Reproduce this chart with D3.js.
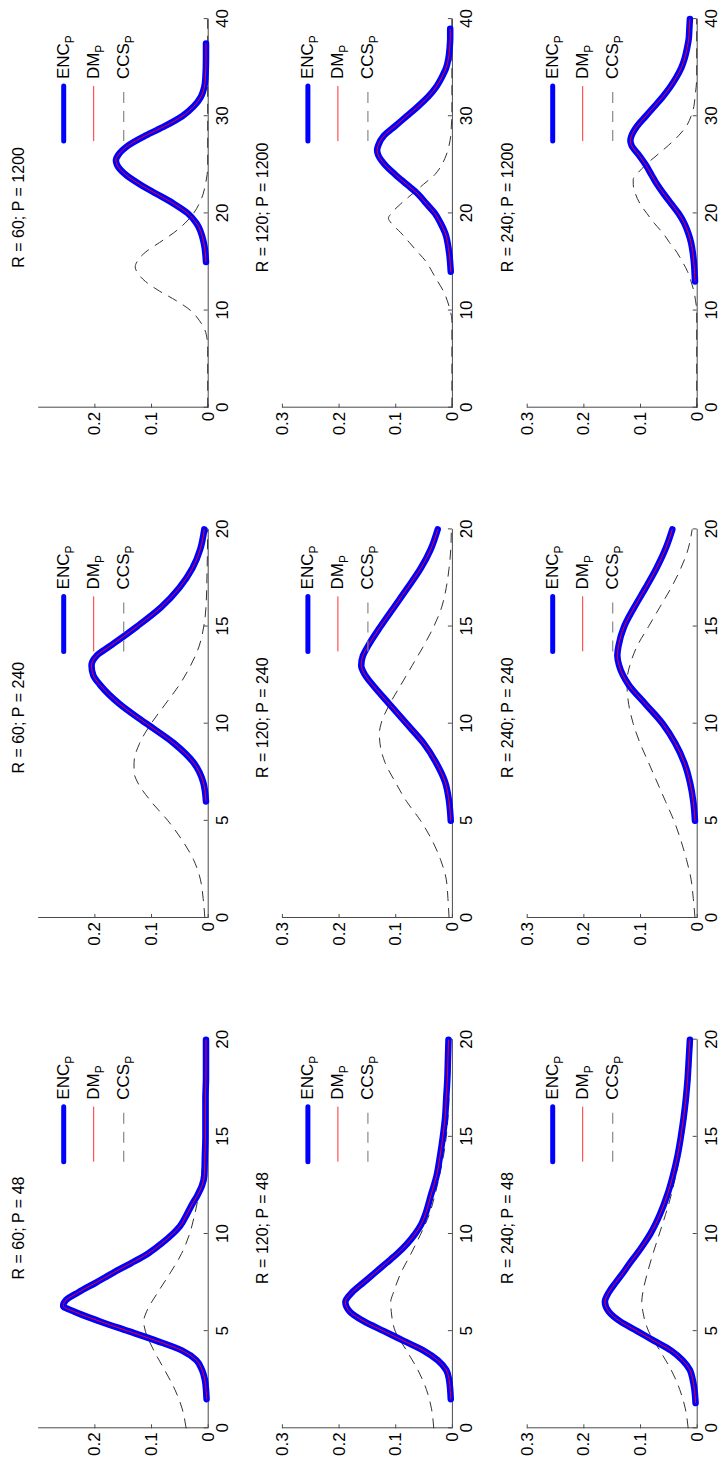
<!DOCTYPE html>
<html>
<head>
<meta charset="utf-8">
<script src="https://cdn.jsdelivr.net/npm/d3@7"></script>
<style>
  body { margin: 0; background: #fff; }
  svg { display: block; }
</style>
</head>
<body>
<svg id="fig" width="720" height="1464"></svg>
<script>
// ---- grid of runs: rows by R, columns by P ----
const rValues = [60, 120, 240];
const pValues = [48, 240, 1200];
const xDomains = [[0, 20], [0, 20], [0, 40]];
const xTicks20 = [0, 5, 10, 15, 20];
const xTicks40 = [0, 10, 20, 30, 40];
const yTicksFull = [0, 0.1, 0.2, 0.3];
const yTicksR60 = [0, 0.1, 0.2];
const legendLabels = ["ENC", "DM", "CCS"];

// ---- densities, [x, value] ----
const encR60P48 = [[1.5,0.002],[2,0.003],[2.5,0.005],[3,0.01],[3.5,0.02],[4,0.045],[4.5,0.09],[5,0.14],[5.5,0.19],[6,0.235],[6.3,0.255],[6.6,0.25],[7,0.228],[7.5,0.197],[8,0.167],[8.5,0.135],[9,0.105],[9.5,0.082],[10,0.062],[10.4,0.049],[11,0.037],[11.5,0.028],[12,0.018],[12.5,0.01],[13,0.006],[14,0.005],[15,0.004],[16,0.004],[17,0.004],[18,0.003],[19,0.003],[20,0.003]];
const ccsR60P48 = [[0,0.038],[1,0.045],[2,0.058],[3,0.076],[4,0.095],[5,0.11],[5.5,0.113],[6,0.108],[7,0.088],[8,0.066],[9,0.046],[10,0.032],[11,0.023],[12,0.016],[13,0.011],[14,0.008],[16,0.005],[18,0.004],[20,0.003]];

const encR60P240 = [[6,0.003],[7,0.008],[8,0.025],[9,0.06],[10,0.108],[11,0.155],[12,0.19],[12.5,0.202],[13,0.205],[13.5,0.196],[14,0.172],[15,0.125],[16,0.082],[17,0.05],[18,0.027],[19,0.013],[20,0.006]];
const ccsR60P240 = [[0,0.005],[1,0.008],[2,0.013],[3,0.025],[4,0.045],[5,0.07],[6,0.1],[7,0.124],[7.5,0.13],[8,0.13],[9,0.12],[10,0.1],[11,0.075],[12,0.05],[13,0.03],[14,0.015],[15,0.007],[16,0.003],[18,0.001],[20,0]];

const encR60P1200 = [[15,0.003],[17,0.007],[19,0.02],[20,0.035],[21,0.06],[22,0.09],[23,0.12],[24,0.145],[25,0.16],[25.5,0.162],[26,0.158],[27,0.14],[28,0.11],[29,0.075],[30,0.045],[31,0.025],[32,0.012],[33,0.006],[34,0.004],[36,0.003],[37.5,0.003]];
const ccsR60P1200 = [[0,0],[6,0],[7,0.001],[8,0.005],[9,0.015],[10,0.03],[11,0.055],[12,0.085],[13,0.11],[14,0.125],[14.5,0.128],[15,0.125],[16,0.11],[17,0.085],[18,0.06],[19,0.04],[20,0.025],[21,0.015],[22,0.008],[23,0.004],[24,0.001],[25,0],[40,0]];

const encR120P48 = [[1.5,0.002],[2.5,0.005],[3,0.01],[3.5,0.025],[4,0.05],[4.5,0.085],[5,0.12],[5.5,0.155],[6,0.18],[6.5,0.188],[7,0.176],[7.5,0.156],[8,0.136],[8.5,0.116],[9,0.096],[9.5,0.079],[10,0.065],[10.5,0.054],[11,0.047],[12,0.037],[13,0.027],[14,0.021],[15,0.016],[16,0.012],[17,0.01],[18,0.008],[19,0.007],[20,0.006]];
const ccsR120P48 = [[0,0.032],[1,0.036],[2,0.045],[3,0.06],[4,0.08],[5,0.1],[6,0.107],[6.5,0.108],[7,0.103],[8,0.09],[9,0.072],[10,0.055],[11,0.04],[12,0.03],[13,0.022],[14,0.015],[15,0.01],[16,0.007],[18,0.004],[20,0.002]];

const encR120P240 = [[5,0.002],[6,0.005],[7,0.012],[8,0.028],[9,0.05],[10,0.08],[11,0.11],[12,0.14],[12.5,0.153],[13,0.16],[13.5,0.157],[14,0.148],[15,0.126],[16,0.102],[17,0.078],[18,0.055],[19,0.037],[20,0.025]];
const ccsR120P240 = [[0,0.005],[1,0.007],[2,0.01],[3,0.02],[4,0.035],[5,0.055],[6,0.08],[7,0.1],[8,0.118],[9,0.127],[9.5,0.128],[10,0.125],[11,0.11],[12,0.09],[13,0.07],[14,0.05],[15,0.032],[16,0.018],[17,0.01],[18,0.005],[19,0.002],[20,0.001]];

const encR120P1200 = [[14,0.002],[16,0.005],[18,0.012],[19,0.02],[20,0.03],[21,0.045],[22,0.06],[23,0.08],[24,0.1],[25,0.118],[26,0.13],[26.5,0.132],[27,0.13],[28,0.12],[29,0.1],[30,0.08],[31,0.06],[32,0.042],[33,0.028],[34,0.018],[35,0.01],[36,0.006],[37,0.004],[38,0.003],[39,0.003]];
const ccsR120P1200 = [[0,0],[9,0],[10,0.003],[11,0.008],[12,0.015],[13,0.025],[14,0.035],[15,0.045],[16,0.06],[17,0.075],[18,0.09],[19,0.107],[19.5,0.112],[20,0.107],[21,0.09],[22,0.07],[23,0.05],[24,0.03],[25,0.018],[26,0.01],[27,0.005],[28,0.002],[29,0.001],[30,0],[40,0]];

const encR240P48 = [[1.3,0.002],[2,0.004],[2.5,0.007],[3,0.012],[3.5,0.025],[4,0.045],[4.5,0.075],[5,0.105],[5.5,0.135],[6,0.155],[6.5,0.162],[7,0.155],[7.5,0.143],[8,0.13],[8.5,0.118],[9,0.105],[9.5,0.093],[10,0.082],[11,0.065],[12,0.052],[13,0.042],[14,0.034],[15,0.028],[16,0.023],[17,0.019],[18,0.016],[19,0.014],[20,0.012]];
const ccsR240P48 = [[0,0.015],[1,0.02],[2,0.03],[3,0.045],[4,0.065],[5,0.085],[6,0.095],[6.5,0.097],[7,0.095],[8,0.087],[9,0.077],[10,0.066],[11,0.055],[12,0.045],[13,0.037],[14,0.03],[15,0.024],[16,0.019],[17,0.015],[18,0.012],[19,0.01],[20,0.008]];

const encR240P240 = [[5,0.003],[6,0.006],[7,0.012],[8,0.022],[9,0.038],[10,0.06],[11,0.09],[12,0.12],[13,0.137],[13.5,0.14],[14,0.138],[15,0.128],[16,0.11],[17,0.09],[18,0.071],[19,0.055],[20,0.043]];
const ccsR240P240 = [[0,0.003],[1,0.006],[2,0.01],[3,0.018],[4,0.028],[5,0.04],[6,0.055],[7,0.07],[8,0.085],[9,0.1],[10,0.112],[11,0.12],[12,0.123],[12.5,0.122],[13,0.118],[14,0.105],[15,0.085],[16,0.065],[17,0.045],[18,0.028],[19,0.015],[20,0.008]];

const encR240P1200 = [[13,0.003],[15,0.005],[16,0.007],[17,0.01],[18,0.015],[19,0.022],[20,0.032],[21,0.045],[22,0.058],[23,0.07],[24,0.08],[25,0.09],[26,0.102],[27,0.115],[27.5,0.117],[28,0.115],[29,0.105],[30,0.09],[31,0.075],[32,0.06],[33,0.047],[34,0.036],[35,0.027],[36,0.021],[37,0.017],[38,0.014],[39,0.013],[40,0.012]];
const ccsR240P1200 = [[0,0],[10,0],[11,0.002],[12,0.005],[13,0.01],[14,0.016],[15,0.025],[16,0.035],[17,0.048],[18,0.06],[19,0.075],[20,0.088],[21,0.1],[22,0.108],[23,0.112],[23.5,0.112],[24,0.106],[25,0.09],[26,0.07],[27,0.05],[28,0.032],[29,0.018],[30,0.01],[31,0.005],[32,0.003],[33,0.001],[34,0],[40,0]];

// DM tracks ENC in every run
const dmR60P48 = encR60P48, dmR60P240 = encR60P240, dmR60P1200 = encR60P1200;
const dmR120P48 = encR120P48, dmR120P240 = encR120P240, dmR120P1200 = encR120P1200;
const dmR240P48 = encR240P48, dmR240P240 = encR240P240, dmR240P1200 = encR240P1200;

const encTable = [[encR60P48, encR60P240, encR60P1200], [encR120P48, encR120P240, encR120P1200], [encR240P48, encR240P240, encR240P1200]];
const dmTable  = [[dmR60P48, dmR60P240, dmR60P1200], [dmR120P48, dmR120P240, dmR120P1200], [dmR240P48, dmR240P240, dmR240P1200]];
const ccsTable = [[ccsR60P48, ccsR60P240, ccsR60P1200], [ccsR120P48, ccsR120P240, ccsR120P1200], [ccsR240P48, ccsR240P240, ccsR240P1200]];

// ---- layout: a landscape 1464 x 720 figure turned a quarter-turn counter-clockwise ----
const font = "'Liberation Sans', Arial, Helvetica, sans-serif";
const colLeft = [35.7, 546, 1056.3];
const rowTop = [37.7, 281.9, 526.7];
const pw = 388.6, ph = 170;
const axisColor = "#4a4a4a";

const svg = d3.select("#fig");
const root = svg.append("g").attr("transform", "translate(0,1464) rotate(-90)");

rValues.forEach((r, i) => {
  pValues.forEach((p, j) => {
    const g = root.append("g").attr("transform", `translate(${colLeft[j]},${rowTop[i]})`);
    const x = d3.scaleLinear().domain(xDomains[j]).range([0, pw]);
    const y = d3.scaleLinear().domain([0, 0.3]).range([ph, 0]);

    // axes (ticks point inward)
    const xAxis = d3.axisBottom(x)
      .tickValues(j === 2 ? xTicks40 : xTicks20)
      .tickSizeInner(-4).tickSizeOuter(0)
      .tickFormat(d3.format("d"));
    const gx = g.append("g").attr("transform", `translate(0,${ph})`).call(xAxis);
    gx.attr("font-size", 17).attr("font-family", font);
    gx.selectAll("text").attr("y", 20.5).attr("dy", null).attr("fill", "#000");

    const yAxis = d3.axisLeft(y)
      .tickValues(i === 0 ? yTicksR60 : yTicksFull)
      .tickSizeInner(-4).tickSizeOuter(0).tickPadding(4)
      .tickFormat(d => d === 0 ? "0" : d3.format(".1f")(d));
    const gy = g.append("g").call(yAxis);
    gy.attr("font-size", 17).attr("font-family", font);
    gy.selectAll("text").attr("fill", "#000");

    [gx, gy].forEach(a => {
      a.select(".domain").attr("stroke", axisColor);
      a.selectAll(".tick line").attr("stroke", axisColor);
    });

    const line = d3.line().x(d => x(d[0])).y(d => y(d[1])).curve(d3.curveMonotoneX);

    g.append("path").datum(ccsTable[i][j])
      .attr("d", line).attr("fill", "none")
      .attr("stroke", "#333").attr("stroke-width", 1)
      .attr("stroke-dasharray", "10,7");
    g.append("path").datum(encTable[i][j])
      .attr("d", line).attr("fill", "none")
      .attr("stroke", "#0000ff").attr("stroke-width", 6.5)
      .attr("stroke-linecap", "round").attr("stroke-linejoin", "round");
    g.append("path").datum(dmTable[i][j])
      .attr("d", line).attr("fill", "none")
      .attr("stroke", "#ff0000").attr("stroke-width", 1);

    // title
    g.append("text")
      .attr("x", pw / 2 + 6).attr("y", -14)
      .attr("text-anchor", "middle")
      .attr("font-family", font).attr("font-size", 16)
      .text(`R = ${r}; P = ${p}`);

    // legend
    const leg = g.append("g");
    const legendStyles = [
      { stroke: "#0000ff", width: 5, dash: null, cap: "round" },
      { stroke: "#ff3030", width: 1, dash: null, cap: "butt" },
      { stroke: "#888", width: 1.2, dash: "11,8", cap: "butt" }
    ];
    legendLabels.forEach((lab, k) => {
      const ly = 26 + 30 * k;
      const st = legendStyles[k];
      leg.append("line")
        .attr("x1", pw - 122).attr("x2", pw - 67)
        .attr("y1", ly).attr("y2", ly)
        .attr("stroke", st.stroke).attr("stroke-width", st.width)
        .attr("stroke-linecap", st.cap)
        .attr("stroke-dasharray", st.dash);
      const t = leg.append("text")
        .attr("x", pw - 60).attr("y", ly + 5)
        .attr("font-family", font).attr("font-size", 17);
      t.append("tspan").text(lab);
      t.append("tspan").attr("font-size", 12).attr("dy", 5).text("P");
    });
  });
});
</script>
</body>
</html>
